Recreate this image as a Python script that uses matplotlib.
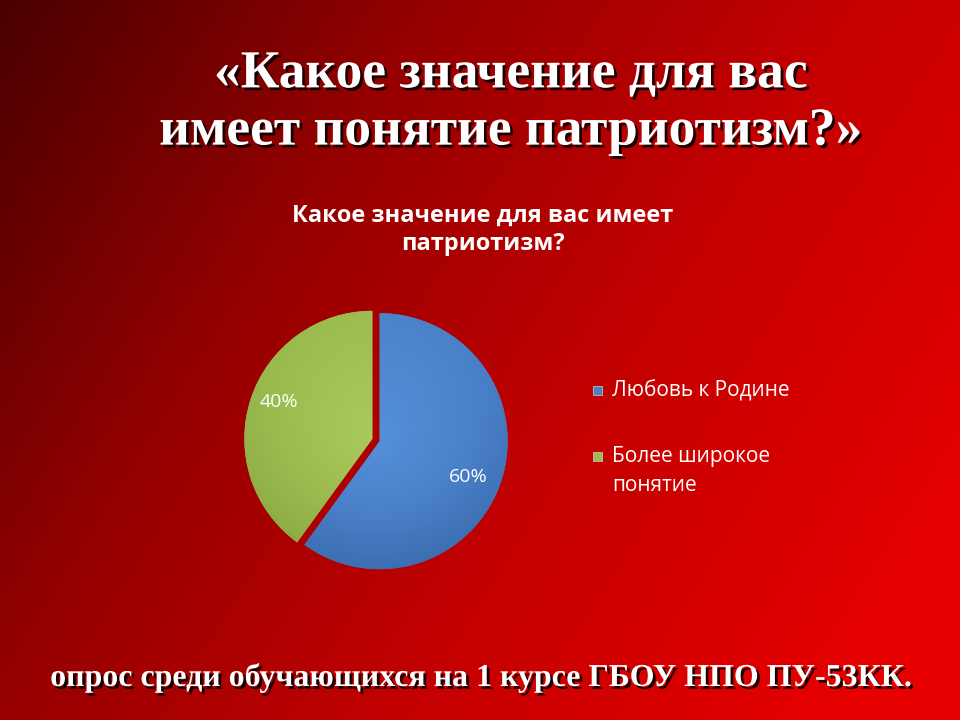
import numpy as np
import matplotlib
matplotlib.use("Agg")
import matplotlib.pyplot as plt
import matplotlib.patheffects as pe
from matplotlib.colors import LinearSegmentedColormap
from matplotlib.patches import Rectangle

# data
labels = ["Любовь к Родине", "Более широкое\nпонятие"]
values = [60, 40]
pct_text = ["60%", "40%"]
colors = ["#4a80c8", "#9bbb4f"]
dark_colors = ["#3868aa", "#86a440"]
light_colors = ["#5590da", "#abca5c"]

slide_title = "«Какое значение для вас\nимеет понятие патриотизм?»"
chart_title = "Какое значение для вас имеет\nпатриотизм?"
footer = "опрос среди обучающихся на 1 курсе ГБОУ НПО ПУ-53КК."

W, H = 960, 720
fig = plt.figure(figsize=(9.6, 7.2), dpi=100)

# background gradient: dark red top-left -> bright red bottom-right
bg = fig.add_axes([0, 0, 1, 1])
xx, yy = np.meshgrid(np.linspace(0, 1, 400), np.linspace(0, 1, 300))
t = np.clip(0.75 * xx + 0.35 * yy, 0, 1)
bg_cmap = LinearSegmentedColormap.from_list("bg", ["#4a0000", "#950000", "#c40000", "#e60000"])
bg.imshow(t, cmap=bg_cmap, extent=[0, 1, 0, 1], origin="upper", aspect="auto")
bg.set_axis_off()

shadow = [pe.withSimplePatchShadow(offset=(2, -2), shadow_rgbFace="black", alpha=0.85)]

fig.text(0.532, 1 - 103 / H, slide_title, ha="center", va="center",
         fontsize=38.5, fontweight="bold", family="Liberation Serif",
         color="white", linespacing=1.25, path_effects=shadow)

fig.text(0.503, 1 - 230 / H, chart_title, ha="center", va="center",
         fontsize=17, fontweight="bold", family="Open Sans",
         color="white", linespacing=1.2)

fig.text(0.502, 1 - 678 / H, footer, ha="center", va="center",
         fontsize=23, fontweight="bold", family="Liberation Serif",
         color="white", path_effects=shadow)

# pie
r_px = 128
cx, cy = 376, 440
lim = 1.25
size = 2 * lim * r_px
ax = fig.add_axes([(cx - size / 2) / W, 1 - (cy + size / 2) / H, size / W, size / H])
wedges, _ = ax.pie(values, colors=colors, startangle=90, counterclock=False,
                   explode=[0.03, 0.03], wedgeprops=dict(linewidth=0))
ax.set_xlim(-lim, lim)
ax.set_ylim(-lim, lim)
ax.set_aspect("equal")
ax.set_axis_off()

gx, gy = np.meshgrid(np.linspace(-lim, lim, 300), np.linspace(lim, -lim, 300))
rr = np.sqrt(gx ** 2 + gy ** 2)
shade = np.clip(0.5 * rr + 0.25 * (0.5 - gy) / 1.5 + 0.15, 0, 1)
for w, lc, c, dc in zip(wedges, light_colors, colors, dark_colors):
    cm = LinearSegmentedColormap.from_list("s", [lc, c, dc])
    im = ax.imshow(shade, cmap=cm, extent=[-lim, lim, -lim, lim], zorder=2)
    im.set_clip_path(w)

ax.text(0.72, -0.29, pct_text[0], ha="center", va="center", fontsize=14,
        color="white", family="Open Sans", zorder=3)
ax.text(-0.76, 0.30, pct_text[1], ha="center", va="center", fontsize=14,
        color="white", family="Open Sans", zorder=3)

# legend
leg_y = [390, 456]
for lab, c, y in zip(labels, colors, leg_y):
    fig.patches.append(Rectangle((593 / W, 1 - (y + 5) / H), 9 / W, 9 / H,
                                 transform=fig.transFigure, facecolor=c,
                                 edgecolor="#d0d0d0", linewidth=0.5))
    fig.text(612 / W, 1 - (y - 10) / H, lab, ha="left", va="top", fontsize=15,
             color="white", family="Open Sans", linespacing=1.5)

fig.savefig("out.png", dpi=100)
